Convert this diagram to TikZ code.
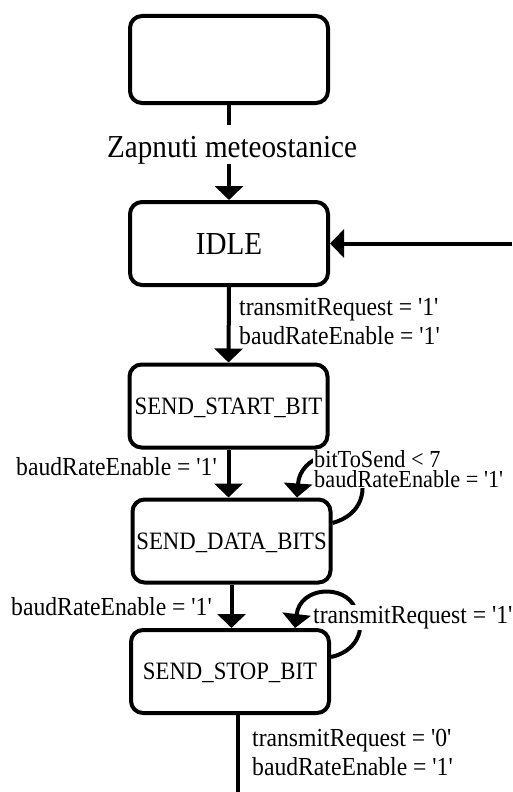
\documentclass[tikz,border=0pt]{standalone}
\usepackage{fontspec}
\setmainfont{Liberation Serif}[FakeStretch=0.91, Ligatures=TeXOff]
\usetikzlibrary{arrows.meta}
\pgfdeclarelayer{bg}
\pgfsetlayers{bg,main}
\begin{document}
\begin{tikzpicture}[x=1pt, y=-1pt,
  state/.style={draw, line width=4pt, rounded corners=12pt,
    minimum width=198pt, minimum height=83pt, inner xsep=0pt,
    font=\fontsize{25}{30}\selectfont, text height=16.5pt, text depth=0pt},
  lbl/.style={inner sep=0pt, align=left, font=\fontsize{26}{29}\selectfont},
  conn/.style={line width=4pt},
  arr/.style={conn, -{Triangle[width=28pt, length=14pt]}}]
\useasboundingbox (0,0) rectangle (512,792);
\begin{pgfonlayer}{bg}
  \fill[white] (0,0) rectangle (512,792);
\end{pgfonlayer}

% transition labels (base = baseline of the last line;
% the filled ones hide the middle of the self loops)
\node[lbl, anchor=base west] (lIdle) at (239,344)
  {transmitRequest = '1'\\baudRateEnable = '1'};
\node[lbl, anchor=base east] (lStart) at (217,475) {baudRateEnable = '1'};
\node[lbl, anchor=base west, fill=white, inner sep=1pt,
  font=\fontsize{24.5}{20}\selectfont] (lDataLoop) at (313,487)
  {bitToSend < 7\\baudRateEnable = '1'};
\node[lbl, anchor=base east] (lData) at (212,615) {baudRateEnable = '1'};
\node[lbl, anchor=base west, fill=white, inner sep=1pt] (lStopLoop) at (312,623)
  {transmitRequest = '1'};
\node[lbl, anchor=base west] (lStop) at (252,775)
  {transmitRequest = '0'\\baudRateEnable = '1'};
\node[inner sep=0pt, anchor=base west, font=\fontsize{32}{38}\selectfont]
  (power) at (107,157) {Zapnuti meteostanice};

% states
\node[state, minimum height=87pt] (init) at (229,59.5) {};
\node[state, font=\fontsize{32}{38}\selectfont, text height=21pt] (idle) at (229,243.5) {IDLE};
\node[state] (start) at (228.5,406) {SEND\_START\_BIT};
\node[state] (data) at (231.5,541) {SEND\_DATA\_BITS};
\node[state] (stop) at (230,671.5) {SEND\_STOP\_BIT};

% free ends of connectors
\coordinate (powerIn) at (229,125);
\coordinate (powerOut) at (229,164);
\coordinate (back) at (512,243.5);
\coordinate (exit) at (238,792);

\begin{pgfonlayer}{bg}
  \draw[conn] (init.south) -- (powerIn);
  \draw[arr] (powerOut) -- (idle.north);
  \draw[arr] (back) -- (idle.east);
  \draw[arr] (idle.south) -- (start.north);
  \draw[arr] (start.south) -- (start.south |- data.north);
  \draw[arr] (data.south) -- (data.south |- stop.north);
  \draw[conn] (stop.south -| exit) -- (exit);
  % self loops
  \draw[arr] ([yshift=18pt]data.east) .. controls +(29,-8) and +(13,25) .. ++(24,-58)
    .. controls +(-15,-20) and +(3,-42) .. ([xshift=65.5pt]data.north);
  \draw[arr] ([yshift=14.5pt]stop.east) .. controls +(24,-5) and +(13,22) .. ++(24,-49)
    .. controls +(-10,-24) and +(5,-42) .. ([xshift=65pt]stop.north);
\end{pgfonlayer}
\end{tikzpicture}
\end{document}
